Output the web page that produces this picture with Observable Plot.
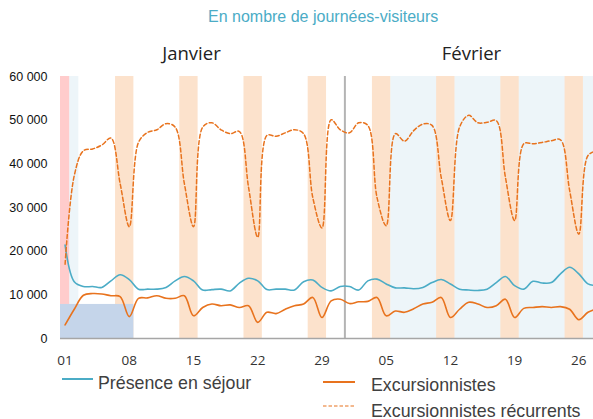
<!DOCTYPE html>
<html><head><meta charset="utf-8">
<script src="https://cdn.jsdelivr.net/npm/d3@7"></script>
<script src="https://cdn.jsdelivr.net/npm/@observablehq/plot@0.6"></script>
<style>
body{margin:0;background:#fff;}
#wrap{position:relative;width:593px;height:419px;overflow:hidden;font-family:"Liberation Sans",Arial,sans-serif;}
#chart{position:absolute;left:0;top:0;}
#title{position:absolute;left:208px;top:9px;font-size:16px;line-height:16px;color:#4bacc6;white-space:nowrap;}
.month{position:absolute;top:44px;width:120px;text-align:center;font-family:"Open Sans",sans-serif;font-size:18.5px;line-height:18.5px;color:#222;}
.leg{position:absolute;font-size:17.8px;line-height:18px;color:#404040;white-space:nowrap;}
.sw{position:absolute;}
</style></head><body>
<div id="wrap">
<div id="chart"></div>
<div id="title">En nombre de journées-visiteurs</div>
<div class="month" style="left:131.5px">Janvier</div>
<div class="month" style="left:411.5px">Février</div>
<svg class="sw" style="left:62px;top:374px" width="31" height="10"><line x1="0" x2="31" y1="5" y2="5" stroke="#4bacc6" stroke-width="2"/></svg>
<div class="leg" style="left:98px;top:374px">Présence en séjour</div>
<svg class="sw" style="left:323px;top:377px" width="32" height="10"><line x1="0" x2="32" y1="5" y2="5" stroke="#e8731e" stroke-width="2"/></svg>
<div class="leg" style="left:371px;top:375.5px">Excursionnistes</div>
<svg class="sw" style="left:323px;top:401px" width="32" height="10"><line x1="0" x2="32" y1="5" y2="5" stroke="#e8731e" stroke-width="1.2" stroke-dasharray="3.5,2"/></svg>
<div class="leg" style="left:371px;top:401.5px">Excursionnistes récurrents</div>
</div>
<script>
// Day index 0 = 1 January, 31 = 1 February (2023)
const presence = [21400, 13000, 11900, 11900, 11700, 13200, 14600, 13500, 11300, 11300, 11300, 11700, 13200, 14200, 13200, 11100, 11200, 11300, 10900, 12700, 13800, 13200, 11200, 11300, 11300, 11100, 13000, 13400, 11700, 10900, 11900, 11900, 11100, 13200, 13600, 12500, 11600, 11600, 11400, 11700, 12800, 13500, 12500, 11300, 11100, 11000, 11300, 12800, 14200, 12100, 11300, 13100, 12700, 12800, 14800, 16300, 14800, 12500, 12200];
const excursionnistes = [3100, 6700, 9900, 10300, 10200, 9800, 9600, 5000, 9200, 9300, 9800, 9200, 9200, 9800, 5200, 7100, 7900, 7500, 7700, 7100, 7500, 3700, 6000, 5700, 6700, 7500, 7900, 9400, 4800, 8600, 9000, 8000, 8400, 8500, 9400, 5200, 6300, 6000, 6800, 7900, 8300, 9400, 4800, 6700, 8300, 7900, 7100, 7500, 9000, 4800, 6900, 7100, 7300, 7100, 7300, 6700, 4300, 6000, 6800];
const recurrents = [17000, 37300, 43000, 43400, 44300, 45900, 35500, 25600, 44900, 47200, 47800, 49200, 48400, 35500, 25600, 48400, 49400, 47800, 46900, 47400, 34600, 23200, 46500, 46300, 47100, 47800, 46900, 32300, 25300, 50100, 47800, 47100, 49400, 48800, 32300, 25800, 46900, 45200, 47600, 49100, 48800, 36900, 27000, 48400, 51100, 49400, 49500, 49900, 36900, 27000, 44600, 44600, 44900, 45300, 45500, 33900, 23900, 41900, 43000];

const tickDays = [0, 7, 14, 21, 28, 35, 42, 49, 56];
const tickLabels = ["01", "08", "15", "22", "29", "05", "12", "19", "26"];
const yTicks = [0, 10000, 20000, 30000, 40000, 50000, 60000];

const weekendStart = [6, 13, 20, 27, 34, 41, 48, 55];
const weekendEnd   = [7, 14, 21, 28, 35, 42, 49, 56];
const holidayStart = [1, 36];
const holidayEnd   = [1, 58];
const feriesDays   = [0];
const refStart = [0], refEnd = [7], refLevel = [7800];
const monthBoundary = [30.5];

const days = presence.map((_, i) => i);
const labelMap = new Map(tickDays.map((d, i) => [d, tickLabels[i]]));
const fr = d3.formatLocale({decimal: ",", thousands: " ", grouping: [3], currency: ["", " €"]}).format(",d");
const span = (s, e) => s.map((v, i) => ({a: v - 0.5, b: e[i] + 0.5}));

const chart = Plot.plot({
  width: 593, height: 370,
  marginTop: 76, marginBottom: 32, marginLeft: 60, marginRight: 0,
  x: {domain: [-0.5, 57.6]},
  y: {domain: [0, 60000]},
  style: {fontFamily: "Liberation Sans, Arial, sans-serif", background: "transparent"},
  marks: [
    Plot.rect(span(holidayStart, holidayEnd), {x1: "a", x2: "b", y1: 0, y2: 60000, fill: "#edf5f9"}),
    Plot.rect(span(weekendStart, weekendEnd), {x1: "a", x2: "b", y1: 0, y2: 60000, fill: "#fce2cc"}),
    Plot.rect(span(feriesDays, feriesDays), {x1: "a", x2: "b", y1: 0, y2: 60000, fill: "#ffcccc"}),
    Plot.rect(refStart.map((s, i) => ({a: s - 0.5, b: refEnd[i] + 0.5, v: refLevel[i]})), {x1: "a", x2: "b", y1: 0, y2: "v", fill: "#c5d5ea"}),
    Plot.ruleX(monthBoundary, {y1: 0, y2: 60000, stroke: "#b4b4b4", strokeWidth: 2}),
    Plot.ruleY([0], {stroke: "#a6a6a6", strokeWidth: 1.5}),
    Plot.line(days, {x: d => d, y: d => presence[d], stroke: "#4bacc6", strokeWidth: 1.6, curve: "catmull-rom", clip: true}),
    Plot.line(days, {x: d => d, y: d => excursionnistes[d], stroke: "#e8731e", strokeWidth: 1.6, curve: "catmull-rom", clip: true}),
    Plot.line(days, {x: d => d, y: d => recurrents[d], stroke: "#e8731e", strokeWidth: 1.5, strokeDasharray: "4,2.5", curve: "catmull-rom", clip: true}),
    Plot.axisY({ticks: yTicks, tickFormat: fr, tickSize: 0, tickPadding: 13, fontSize: 12.5, fill: "#111", label: null, style: {letterSpacing: "-0.4px"}}),
    Plot.axisX({ticks: tickDays, tickFormat: d => labelMap.get(d), tickSize: 0, tickPadding: 17, fontSize: 13.5, fill: "#333", label: null, fontFamily: "Open Sans, sans-serif"})
  ]
});
document.getElementById("chart").appendChild(chart);
</script>
</body></html>
